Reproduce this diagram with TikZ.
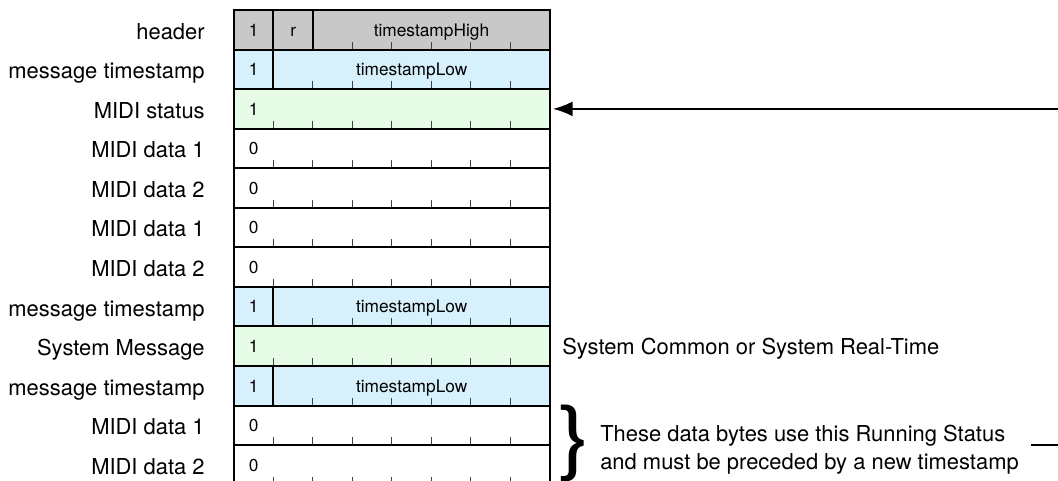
\documentclass[tikz,border=0pt]{standalone}
\usepackage{fontspec}
\setmainfont{TeX Gyre Heros}
\usetikzlibrary{arrows.meta}

\definecolor{hdrgray}{RGB}{200,200,200}
\definecolor{tsblue}{RGB}{214,240,252}
\definecolor{stgreen}{RGB}{230,252,230}

\tikzset{
  row/.style={draw, line width=1.4pt, minimum width=7.9cm, minimum height=0.98875cm, inner sep=0, outer sep=0},
  row hdr/.style={fill=hdrgray},
  row ts/.style={fill=tsblue},
  row st/.style={fill=stgreen},
  row dat/.style={fill=white},
  rowlabel/.style={inner sep=0, font=\fontsize{15.6}{19}\selectfont, text height=11.2pt, text depth=0pt},
  bit/.style={inner sep=0, font=\fontsize{12.3}{15}\selectfont, text height=8.9pt, text depth=0pt},
  divider/.style={line width=1.4pt},
  tick/.style={line width=0.7pt, black!75},
  conn/.style={line width=1.4pt},
  note/.style={inner sep=0, font=\fontsize{15.6}{19.9}\selectfont, align=left},
}

\begin{document}
\begin{tikzpicture}
  \begin{scope}[x=0.025cm, y=0.025cm]
    \useasboundingbox (0,0) rectangle (1058,-480);
    \clip (0,0) rectangle (1058,-480);
    % one byte per row
    \foreach \i/\lbl/\kind in {0/header/hdr, 1/message timestamp/ts, 2/MIDI status/st,
        3/MIDI data 1/dat, 4/MIDI data 2/dat, 5/MIDI data 1/dat, 6/MIDI data 2/dat,
        7/message timestamp/ts, 8/System Message/st, 9/message timestamp/ts,
        10/MIDI data 1/dat, 11/MIDI data 2/dat} {
      \node [row, row \kind] (r\i) at (392,{-29.8-39.55*\i}) {};
      \path (r\i.west) ++(-29,-1.5) node [rowlabel, anchor=east] (l\i) {\lbl};
      \foreach \k in {1,...,7}
        \draw [tick] (r\i.south west) ++(39.5*\k,0) -- ++(0,8);
    }
    % full dividers between fields
    \foreach \i/\k in {0/1, 0/2, 1/1, 7/1, 9/1}
      \draw [divider] (r\i.south west) ++(39.5*\k,0) -- ++(0,39.55);
    % bit contents
    \foreach \i in {0,1,2,7,8,9}
      \path (r\i.west) ++(19.75,0) node [bit] (one\i) {1};
    \foreach \i in {3,4,5,6,10,11}
      \path (r\i.west) ++(19.75,0) node [bit] (zero\i) {0};
    \path (r0.west) ++(59.25,0) node [bit] (rsv) {r};
    \path (r0.west) ++(197.5,0) node [bit] (tshigh) {timestampHigh};
    \foreach \i in {1,7,9}
      \path (r\i.west) ++(177.75,0) node [bit] (tslow\i) {timestampLow};
    % notes on the right
    \coordinate (stin) at (1060,-108.9);
    \draw [conn, -{Latex[length=14pt, width=10.5pt]}, shorten >=2pt] (stin) -- (r2.east);
    \node [note, anchor=west, text height=11.2pt, text depth=0pt] (sysnote) at (562,-346.2) {System Common or System Real-Time};
    \node [inner sep=0, font=\fontsize{58}{58}\selectfont] (brace) at (575,-443) {\scalebox{1.2}[1]{\}}};
    \node [note, anchor=west] (runtxt) at (600,-450) {These data bytes use this Running Status\\and must be preceded by a new timestamp};
    \coordinate (runout) at (1060,-445);
    \draw [conn, shorten <=8.5pt] (runtxt.east |- runout) -- (runout);
  \end{scope}
\end{tikzpicture}
\end{document}
